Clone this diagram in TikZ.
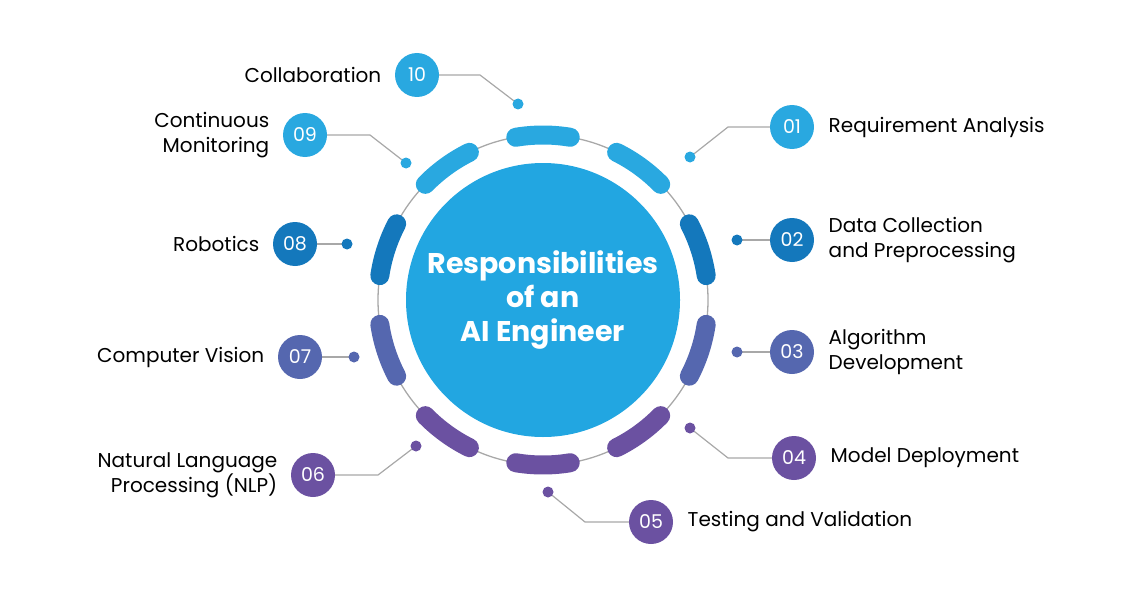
\documentclass[tikz,border=0pt]{standalone}
\usepackage{fontspec}
\setmainfont{Poppins}
\usetikzlibrary{positioning}
\definecolor{cLight}{HTML}{29A8E0}
\definecolor{cDark}{HTML}{1478BC}
\definecolor{cMid}{HTML}{5567AF}
\definecolor{cPurp}{HTML}{6B51A1}
\definecolor{cCore}{HTML}{22A6E1}
\definecolor{cLine}{HTML}{A8A8A8}

\begin{document}
\begin{tikzpicture}[x=1pt,y=-1pt,
  seg/.style={line width=19pt, line cap=round},
  dotnode/.style={circle, fill=#1, minimum size=11pt, inner sep=0pt},
  numnode/.style={circle, fill=#1, minimum size=44pt, inner sep=0pt, text=white, font=\fontsize{19}{19}\selectfont},
  lbl/.style={font=\fontsize{20}{25}\selectfont, align=left},
  lead/.style={cLine, line width=1.2pt}]

\useasboundingbox (0,0) rectangle (1142,599);

% ring and hub
\draw[cLine, line width=1.3pt] (543,300) circle (165);
\node (core) [circle, fill=cCore, minimum size=274pt, inner sep=0pt, text=white,
  font=\fontsize{28.5}{34}\selectfont\bfseries, align=center] at (543,300)
  {Responsibilities\\of an\\AI Engineer};

% arc segments
\foreach \ang/\col in {90/cLight, 54/cLight, 18/cDark, -18/cMid, -54/cPurp,
  -90/cPurp, -126/cPurp, -162/cMid, 162/cDark, 126/cLight} {
  \draw[seg, \col] (543,300) ++({\ang+9.5}:{165} and {-165}) arc[start angle=\ang+9.5, end angle=\ang-9.5, x radius=165, y radius=-165];
};

% right side items
\foreach \n/\col/\dx/\dy/\bx/\by/\cx/\cy/\txt in {
  01/cLight/690/157/728/127/792/127/{Requirement Analysis},
  02/cDark/737/240/737/240/792/240/{Data Collection\\and Preprocessing},
  03/cMid/737/352/737/352/792/352/{Algorithm\\Development},
  04/cPurp/690/428/728/458/794/458/{Model Deployment},
  05/cPurp/548/492/585/522/651/522/{Testing and Validation}} {
  \draw[lead] (\dx,\dy) -- (\bx,\by) -- (\cx,\cy);
  \node (d\n) [dotnode=\col] at (\dx,\dy) {};
  \node (n\n) [numnode=\col] at (\cx,\cy) {\n};
  \node (t\n) [lbl, right=11pt of n\n] {\txt};
};

% left side items
\foreach \n/\col/\dx/\dy/\bx/\by/\cx/\cy/\txt in {
  06/cPurp/416/446/378/475/313/475/{Natural Language\\Processing (NLP)},
  07/cMid/354/357/354/357/300/357/{Computer Vision},
  08/cDark/347/244/347/244/295/244/{Robotics},
  09/cLight/406/163/370/135/305/135/{Continuous\\Monitoring},
  10/cLight/518/104/480/75/417/75/{Collaboration}} {
  \draw[lead] (\dx,\dy) -- (\bx,\by) -- (\cx,\cy);
  \node (d\n) [dotnode=\col] at (\dx,\dy) {};
  \node (n\n) [numnode=\col] at (\cx,\cy) {\n};
  \node (t\n) [lbl, align=right, left=10pt of n\n] {\txt};
};

\end{tikzpicture}
\end{document}
